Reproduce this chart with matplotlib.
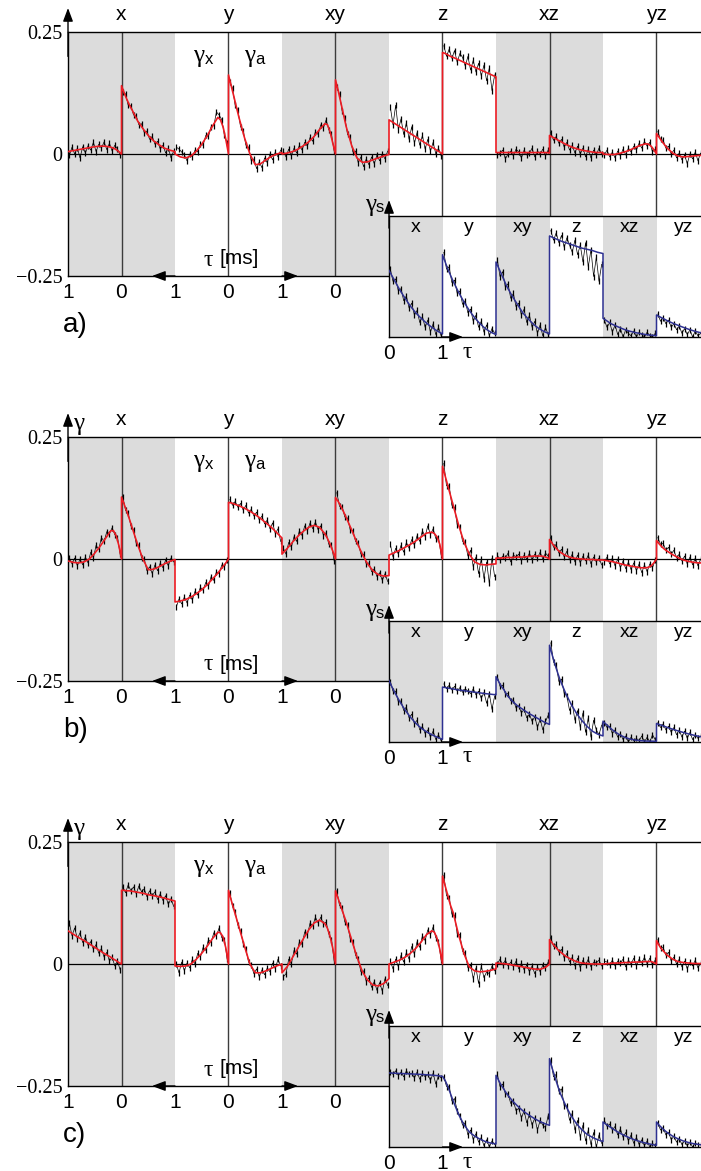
import numpy as np
import matplotlib.pyplot as plt

plt.rcParams['font.family'] = ['Liberation Sans', 'DejaVu Sans']
SERIF = 'Liberation Serif'

components = ["x", "y", "xy", "z", "xz", "yz"]

# tau grid of the fitted curves and of the measured points (ms)
tau_fit = [0, 0.05, 0.1, 0.15, 0.2, 0.3, 0.4, 0.5, 0.6, 0.7, 0.8, 0.9, 1.0]
tau_dat = [0.025, 0.075, 0.125, 0.175, 0.225, 0.275, 0.325, 0.375, 0.425, 0.475,
           0.525, 0.575, 0.625, 0.675, 0.725, 0.775, 0.825, 0.875, 0.925, 0.975]

# ---- panel a (main values x1000, inset values in % of inset height)
a_gx_fit = [[0, 5, 9, 12, 14, 16, 16, 15, 13, 11, 9, 7, 5],
            [0, 30, 55, 70, 75, 57, 37, 20, 6, -4, -8, -6, 0],
            [0, 22, 45, 60, 62, 50, 36, 25, 17, 10, 5, 2, 0],
            [0, 4, 7, 11, 14, 21, 28, 35, 42, 49, 56, 63, 70],
            [2, 3, 3, 3, 3, 3, 3, 3, 3, 3, 3, 3, 3],
            [0, 9, 16, 20, 21, 18, 13, 8, 4, 1, -1, -1, 0]]
a_ga_fit = [[140, 125, 112, 100, 90, 68, 52, 38, 27, 19, 12, 8, 5],
            [162, 140, 118, 95, 73, 33, 0, -22, -20, -12, -5, 0, 3],
            [152, 130, 105, 80, 56, 18, -8, -17, -16, -12, -8, -4, -1],
            [208, 206, 203, 200, 198, 193, 188, 183, 178, 173, 168, 163, 158],
            [38, 35, 32, 29, 26, 20, 15, 11, 8, 6, 4, 3, 3],
            [42, 34, 26, 19, 12, 2, -4, -6, -5, -4, -3, -2, -1]]
a_gx_dat = [[-2, 10, 18, 6, 22, 9, 25, 12, 20, 5, 24, 8, 17, 2, 15, -8, 12, 0, 14, -3],
            [22, 38, 70, 80, 86, 58, 56, 36, 38, 18, 20, 4, 8, -6, 0, -14, -2, 4, 10, 14],
            [6, 40, 50, 70, 54, 60, 40, 46, 26, 34, 16, 24, 8, 18, 2, 12, -4, 10, -6, 6],
            [-4, 12, 0, 24, 6, 30, 10, 38, 18, 44, 22, 56, 30, 64, 40, 72, 50, 100, 60, 96],
            [8, -4, 10, 0, 6, -6, 12, 2, -2, 8, -8, 4, 10, -4, 6, 0, -10, 8, 2, -2],
            [10, 4, 24, 16, 26, 12, 22, 8, 16, 4, 12, -2, 10, -4, 6, -8, 4, -6, 8, -2]]
a_ga_dat = [[128, 123, 100, 99, 80, 78, 60, 62, 44, 47, 30, 36, 20, 26, 10, 18, 2, 12, -8, 6],
            [148, 135, 100, 90, 56, 48, 18, 14, -14, -10, -30, -16, -28, -8, -18, 0, -12, 4, -6, 8],
            [138, 122, 88, 74, 40, 34, 4, 6, -18, -6, -26, -10, -22, -6, -20, -2, -14, 0, -10, 6],
            [222, 200, 215, 196, 212, 188, 206, 198, 180, 200, 172, 192, 168, 186, 160, 182, 150, 176, 130, 162],
            [44, 28, 36, 22, 30, 14, 24, 8, 18, 2, 16, 0, 12, -6, 10, -8, 8, -2, 12, 0],
            [46, 30, 28, 12, 16, 0, 8, -8, 2, -12, -2, -20, 0, -10, 4, -14, 2, -8, 4, 0]]
a_gs_fit = [[55, 51, 47, 43, 39, 32, 25.5, 20, 15.5, 11.5, 8, 5, 2.5],
            [68, 62, 56, 51, 46, 37, 29, 22, 16, 11, 7, 4, 2],
            [62, 57, 52, 47, 42, 34, 27, 20, 15, 10.5, 7, 4.5, 2.5],
            [83.5, 82.5, 81.5, 80.5, 79.5, 78, 76.5, 75, 73.5, 72.5, 71.5, 70, 69],
            [15.4, 14, 12.5, 11, 10, 8, 6.2, 4.8, 3.7, 2.8, 2, 1.5, 1.1],
            [18.2, 17, 15.8, 14.7, 13.5, 11.5, 9.7, 8, 6.4, 5, 3.8, 2.8, 2]]
a_gs_dat = [[56, 46, 48, 38, 40, 30, 34, 24, 28, 18, 22, 12, 17, 8, 14, 4, 11, 2, 8, 1],
            [70, 56, 58, 45, 47, 36, 38, 27, 30, 20, 23, 13, 18, 8, 13, 4, 10, 1, 7, 3],
            [64, 50, 54, 41, 44, 32, 36, 25, 28, 18, 23, 12, 18, 8, 13, 3, 10, 1, 8, 2],
            [88, 80, 86, 78, 84, 74, 82, 76, 70, 80, 68, 76, 62, 78, 58, 72, 50, 66, 46, 60],
            [14, 8, 12, 4, 10, 2, 7, 0, 6, 3, 1, 5, 0, 4, 2, 0, 4, 1, 0, 3],
            [19, 13, 16, 11, 14, 8, 11, 6, 9, 3, 7, 2, 6, 0, 5, 1, 3, 0, 2, 1]]

# ---- panel b
b_gx_fit = [[0, 28, 48, 58, 58, 42, 26, 12, 0, -6, -8, -7, -4],
            [0, -8, -15, -22, -29, -41, -53, -63, -71, -78, -83, -86, -88],
            [0, 16, 30, 42, 52, 65, 69, 65, 57, 47, 35, 22, 10],
            [0, 30, 45, 52, 55, 53, 45, 37, 30, 24, 18, 13, 8],
            [0, 3, 5, 6, 6, 6, 5, 4, 4, 3, 3, 2, 2],
            [0, -8, -14, -17, -18, -18, -16, -14, -12, -9, -6, -4, -2]]
b_ga_fit = [[127, 112, 97, 81, 64, 30, 0, -22, -21, -16, -10, -5, -1],
            [116, 115, 113, 111, 109, 104, 98, 91, 83, 74, 65, 54, 43],
            [126, 118, 108, 97, 85, 60, 34, 10, -10, -24, -32, -35, -34],
            [190, 170, 150, 130, 110, 70, 35, 10, -6, -11, -12, -11, -10],
            [40, 32, 25, 19, 14, 7, 3, 1, 0, -1, -1, -2, -2],
            [38, 31, 25, 20, 16, 9, 3, -2, -5, -7, -8, -8, -8]]
b_gx_dat = [[10, 44, 50, 64, 52, 56, 36, 44, 20, 28, 2, 14, -8, 4, -12, 0, -14, 2, -10, 2],
            [-2, -16, -12, -30, -26, -44, -36, -56, -48, -64, -58, -74, -66, -84, -74, -90, -78, -92, -82, -98],
            [-4, 28, 30, 54, 48, 68, 60, 76, 62, 74, 58, 68, 48, 58, 36, 46, 24, 34, 10, 22],
            [8, 44, 42, 62, 50, 68, 46, 58, 36, 48, 28, 40, 22, 34, 14, 28, 10, 22, 4, 30],
            [6, 12, 0, 14, 2, 10, -2, 12, 0, 8, -4, 10, 4, 8, -6, 12, 2, 6, -2, 8],
            [-2, -18, -10, -26, -12, -28, -10, -24, -8, -22, -6, -20, -4, -18, 0, -14, 2, -10, 4, -6]]
b_ga_dat = [[128, 100, 94, 68, 60, 32, 28, 2, 0, -24, -16, -30, -12, -24, -8, -18, -2, -14, 2, -6],
            [122, 110, 118, 106, 114, 100, 110, 94, 102, 88, 96, 80, 88, 72, 80, 62, 74, 52, 62, 36],
            [136, 108, 106, 86, 84, 60, 58, 36, 32, 10, 10, -10, -8, -26, -20, -36, -28, -44, -30, -46],
            [196, 150, 150, 110, 106, 70, 66, 36, 34, 6, 18, -16, 4, -30, 0, -40, -6, -50, 2, -36],
            [44, 24, 30, 12, 20, 4, 16, -2, 10, -6, 8, -8, 6, -4, 8, -10, 4, -6, 2, -12],
            [44, 30, 32, 18, 24, 10, 18, 2, 10, -4, 6, -10, 4, -12, 2, -14, 0, -10, -2, -16]]
b_gs_fit = [[50.8, 46, 41.5, 37.5, 33.5, 26.5, 20.5, 15.5, 11.5, 8.5, 6, 4, 2.2],
            [45.4, 45, 44.6, 44.2, 43.8, 43, 42.4, 41.8, 41.2, 40.6, 40, 39.5, 39],
            [54, 50, 46, 43, 39, 34, 30, 27, 24, 21.5, 19, 16.5, 14.5],
            [80, 72, 64.5, 57.5, 51, 40.5, 31.5, 24, 18, 13, 9, 6.5, 5],
            [17.2, 15, 13, 11, 9.2, 6.2, 4, 2.5, 1.6, 1.1, 0.8, 0.7, 0.6],
            [15.3, 14.5, 13.7, 12.9, 12.1, 10.6, 9.2, 7.9, 6.7, 5.6, 4.6, 3.8, 3]]
b_gs_dat = [[50, 42, 42, 33, 34, 26, 29, 20, 23, 15, 18, 10, 13, 7, 10, 4, 9, 2, 6, 1],
            [48, 44, 47, 43, 46, 42, 45, 41, 44, 42, 40, 44, 39, 42, 36, 41, 32, 40, 27, 38],
            [54, 46, 47, 40, 40, 34, 35, 28, 30, 24, 27, 20, 23, 17, 21, 12, 19, 10, 17, 22],
            [82, 66, 64, 50, 52, 40, 38, 26, 32, 18, 26, 12, 24, 8, 20, 4, 18, 10, 6, 14],
            [16, 12, 13, 7, 10, 4, 7, 2, 5, 0, 4, 1, 3, 1, 5, 0, 4, 0, 6, 2],
            [16, 12, 15, 10, 13, 8, 12, 6, 10, 4, 9, 3, 8, 2, 6, 3, 5, 1, 4, 2]]

# ---- panel c
c_gx_fit = [[0, 3, 7, 10, 14, 20, 27, 34, 41, 48, 54, 61, 68],
            [0, 33, 55, 64, 65, 52, 36, 22, 10, 0, -4, -5, -4],
            [0, 32, 56, 73, 83, 90, 84, 70, 52, 33, 14, -5, -18],
            [0, 30, 52, 65, 68, 60, 45, 32, 22, 14, 8, 4, 0],
            [0, -5, -8, -10, -11, -10, -8, -6, -4, -2, 0, 1, 2],
            [0, 3, 5, 5, 5, 4, 4, 3, 3, 2, 2, 1, 0]]
c_ga_fit = [[151, 151, 150, 150, 149, 147, 145, 142, 140, 138, 135, 132, 129],
            [151, 131, 112, 93, 74, 36, 0, -18, -18, -14, -9, -4, 0],
            [150, 134, 118, 102, 86, 50, 15, -15, -33, -43, -45, -40, -30],
            [180, 160, 140, 120, 105, 60, 22, -6, -14, -16, -15, -13, -10],
            [50, 43, 36, 30, 25, 16, 10, 5, 2, 1, 0, 0, 0],
            [48, 38, 30, 24, 18, 10, 5, 3, 2, 1, 1, 0, 0]]
c_gx_dat = [[-12, 6, -4, 14, 6, 24, 14, 32, 22, 40, 30, 46, 38, 56, 44, 64, 52, 74, 58, 84],
            [10, 50, 54, 74, 58, 64, 44, 50, 28, 34, 14, 22, 0, 10, -8, 2, -14, 4, -18, 0],
            [6, 50, 62, 86, 82, 96, 84, 96, 78, 84, 60, 66, 40, 46, 20, 28, 0, 10, -20, -26],
            [8, 46, 54, 76, 60, 70, 48, 58, 34, 46, 20, 36, 10, 24, 4, 18, -6, 10, -10, 6],
            [4, -8, -2, -16, -6, -20, -4, -16, -2, -12, 2, -10, 6, -6, 4, -4, 8, -2, 10, 0],
            [8, -2, 12, 0, 14, 2, 10, -4, 12, 0, 8, -6, 10, 2, 6, -4, 8, -2, 4, 6]]
c_ga_dat = [[158, 146, 162, 150, 158, 144, 160, 148, 154, 138, 150, 140, 148, 132, 144, 130, 140, 122, 134, 118],
            [146, 118, 106, 80, 68, 42, 30, 4, -2, -20, -10, -26, -12, -22, -8, -16, 2, -10, 10, -4],
            [150, 120, 114, 86, 80, 52, 46, 18, 10, -16, -14, -36, -28, -48, -36, -54, -38, -56, -30, -44],
            [182, 140, 136, 102, 100, 62, 60, 26, 22, -8, -2, -30, -8, -40, -4, -28, -16, -20, -4, -14],
            [54, 36, 40, 24, 30, 12, 22, 4, 14, -4, 12, -8, 8, -2, 10, -6, 4, 2, 8, -4],
            [50, 32, 34, 18, 24, 6, 14, 0, 10, -6, 6, -10, 4, -4, 8, -8, 2, -2, 6, -4]]
c_gs_fit = [[61.2, 61.1, 61, 60.9, 60.8, 60.6, 60.4, 60.2, 60, 59.7, 59.4, 59, 58.4],
            [58.4, 55, 50, 44, 38, 27, 18.5, 12.5, 9, 6.5, 4.5, 3.3, 2.5],
            [59.2, 55, 51, 47.5, 44, 38.5, 34, 30, 26.8, 24, 21.5, 19.5, 17.9],
            [73, 65, 58, 51, 44.5, 34.5, 26, 19.5, 14.5, 10.5, 8, 6, 4.5],
            [20.7, 19, 17.5, 16, 14.5, 11.8, 9.5, 7.5, 5.8, 4.4, 3.2, 2.2, 1.4],
            [20.7, 18, 15.8, 13.8, 12, 9, 6.8, 5, 3.7, 2.7, 2, 1.5, 1.2]]
c_gs_dat = [[62, 60, 63, 59, 62, 58, 63, 60, 61, 57, 62, 56, 61, 58, 60, 55, 61, 52, 59, 57],
            [58, 50, 50, 38, 40, 30, 26, 18, 20, 10, 14, 6, 11, 4, 8, 1, 6, 0, 5, 2],
            [60, 50, 52, 44, 44, 36, 38, 30, 32, 24, 30, 20, 27, 18, 24, 14, 22, 18, 16, 26],
            [72, 58, 60, 46, 48, 34, 34, 22, 28, 14, 22, 8, 18, 5, 14, 2, 12, 0, 10, 3],
            [22, 17, 19, 14, 17, 10, 15, 8, 12, 5, 10, 3, 8, 2, 6, 1, 5, 0, 3, 1],
            [20, 14, 16, 10, 12, 6, 9, 4, 7, 2, 5, 1, 4, 0, 3, 2, 2, 0, 1, 2]]

panel_letters = ["a)", "b)", "c)"]
bottom_labels = ["1", "0", "1", "0", "1", "0"]

W, H = 701, 1171
PX = 53.5            # pixels per ms
GRAY = '#dcdcdc'
RED = '#ed1c24'
BLUE = '#2e3192'
DOTS = dict(color='k', lw=0.5, marker='|', ms=4.5, mew=0.9, zorder=3)

fig = plt.figure(figsize=(W / 100, H / 100), dpi=100)


def rect(left, top, width, height):
    return [left / W, 1 - (top + height) / H, width / W, height / H]


def ftext(xp, yp, s, **kw):
    fig.text(xp / W, 1 - yp / H, s, **kw)


def arrow(ax, start, end, coords='data'):
    ax.annotate('', xy=end, xytext=start, xycoords=coords, annotation_clip=False,
                arrowprops=dict(arrowstyle='-|>,head_length=0.8,head_width=0.3',
                                color='k', lw=1, shrinkA=0, shrinkB=0))


def main_panel(top, gx_fit, ga_fit, gx_dat, ga_dat, letter, show_gamma):
    ax = fig.add_axes(rect(68, top, W - 68, 244))
    ax.set_xlim(0, (W - 68) / PX)
    ax.set_ylim(-0.25, 0.25)
    tf = np.array(tau_fit)
    td = np.array(tau_dat)
    us, vs = [], []
    for k, name in enumerate(components):
        c = 2 * k + 1
        if k % 2 == 0:
            ax.axvspan(c - 1, c + 1, color=GRAY, lw=0, zorder=0)
        ax.axvline(c, color='#3c3c3c', lw=1, zorder=1)
        ax.annotate(name, xy=(c, 1), xycoords=('data', 'axes fraction'),
                    xytext=(0, 8.6), textcoords='offset points',
                    ha='center', va='baseline', fontsize=15)
        ax.plot(c - td, np.array(gx_dat[k]) / 1000, **DOTS)
        ax.plot(c + td, np.array(ga_dat[k]) / 1000, **DOTS)
        us += list(c - tf[::-1]) + list(c + tf)
        vs += list(np.array(gx_fit[k][::-1]) / 1000) + list(np.array(ga_fit[k]) / 1000)
    ax.plot(us, vs, color=RED, lw=1.2, zorder=4)
    ax.axhline(0, color='k', lw=0.9, zorder=2)

    for side in ['top', 'left', 'bottom']:
        ax.spines[side].set_linewidth(1)
    ax.spines['right'].set_visible(False)
    ax.set_yticks([-0.25, 0, 0.25])
    ax.set_yticklabels(['\u22120.25', '0', '0.25'])
    for lab in ax.get_yticklabels():
        lab.set_fontfamily(SERIF)
        lab.set_fontsize(14.5)
    ax.set_xticks(range(6))
    ax.set_xticklabels(bottom_labels, fontsize=15)
    ax.tick_params(axis='y', length=0, pad=4)
    ax.tick_params(axis='x', length=0, pad=5)

    arrow(ax, (0, 0.9), (0, 1 + 24 / 244), 'axes fraction')
    arrow(ax, (2, -0.25), ((152 - 68) / PX, -0.25))
    arrow(ax, (4, -0.25), ((298 - 68) / PX, -0.25))

    dy = top - 32
    for xg, sub in [(199, 'x'), (250, 'a')]:
        ftext(xg, 56 + dy, '\u03b3', family=SERIF, fontsize=18, ha='center', va='center')
        ftext(xg + 10, 59 + dy, sub, fontsize=12, ha='center', va='center')
    ftext(208, 260 + dy, '\u03c4', family=SERIF, fontsize=17, ha='center', va='center')
    ftext(239, 259 + dy, '[ms]', fontsize=15, ha='center', va='center')
    ftext(63, 332 + dy, letter, fontsize=20, ha='left', va='baseline')
    if show_gamma:
        ftext(79, 19 + dy, '\u03b3', family=SERIF, fontsize=18, ha='center', va='center')
    return ax


def inset_panel(top, gs_fit, gs_dat):
    ax = fig.add_axes(rect(389, top, W - 389, 121), zorder=3)
    ax.set_facecolor('white')
    ax.set_xlim(0, (W - 389) / PX)
    ax.set_ylim(0, 100)
    tf = np.array(tau_fit)
    td = np.array(tau_dat)
    us, vs = [], []
    for k, name in enumerate(components):
        if k % 2 == 0:
            ax.axvspan(k, k + 1, color=GRAY, lw=0, zorder=0)
        ax.annotate(name, xy=(k + 0.5, 1), xycoords=('data', 'axes fraction'),
                    xytext=(0, -11.5), textcoords='offset points',
                    ha='center', va='baseline', fontsize=14)
        ax.plot(k + td, gs_dat[k], **DOTS)
        us += list(k + tf)
        vs += list(gs_fit[k])
    ax.plot(us, vs, color=BLUE, lw=1.1, zorder=4)

    for side in ['top', 'left', 'bottom']:
        ax.spines[side].set_linewidth(1)
    ax.spines['right'].set_visible(False)
    ax.set_yticks([])
    ax.set_xticks([0, 1])
    ax.set_xticklabels(['0', '1'], fontsize=15)
    ax.tick_params(axis='x', length=0, pad=5)

    arrow(ax, (0, 0.9), (0, 1 + 16 / 121), 'axes fraction')
    arrow(ax, (1, 0), ((463 - 389) / PX, 0))
    ftext(467, top + 136, '\u03c4', family=SERIF, fontsize=17, ha='center', va='center')
    ftext(371, top - 11, '\u03b3', family=SERIF, fontsize=18, ha='center', va='center')
    ftext(380, top - 8, 's', fontsize=12, ha='center', va='center')
    return ax


main_tops = [32, 437, 842]
inset_tops = [216, 621, 1026]
panels = [(a_gx_fit, a_ga_fit, a_gx_dat, a_ga_dat, a_gs_fit, a_gs_dat),
          (b_gx_fit, b_ga_fit, b_gx_dat, b_ga_dat, b_gs_fit, b_gs_dat),
          (c_gx_fit, c_ga_fit, c_gx_dat, c_ga_dat, c_gs_fit, c_gs_dat)]

for i, (gxf, gaf, gxd, gad, gsf, gsd) in enumerate(panels):
    main_panel(main_tops[i], gxf, gaf, gxd, gad, panel_letters[i], i > 0)
    inset_panel(inset_tops[i], gsf, gsd)

fig.savefig('out.png', dpi=100)
